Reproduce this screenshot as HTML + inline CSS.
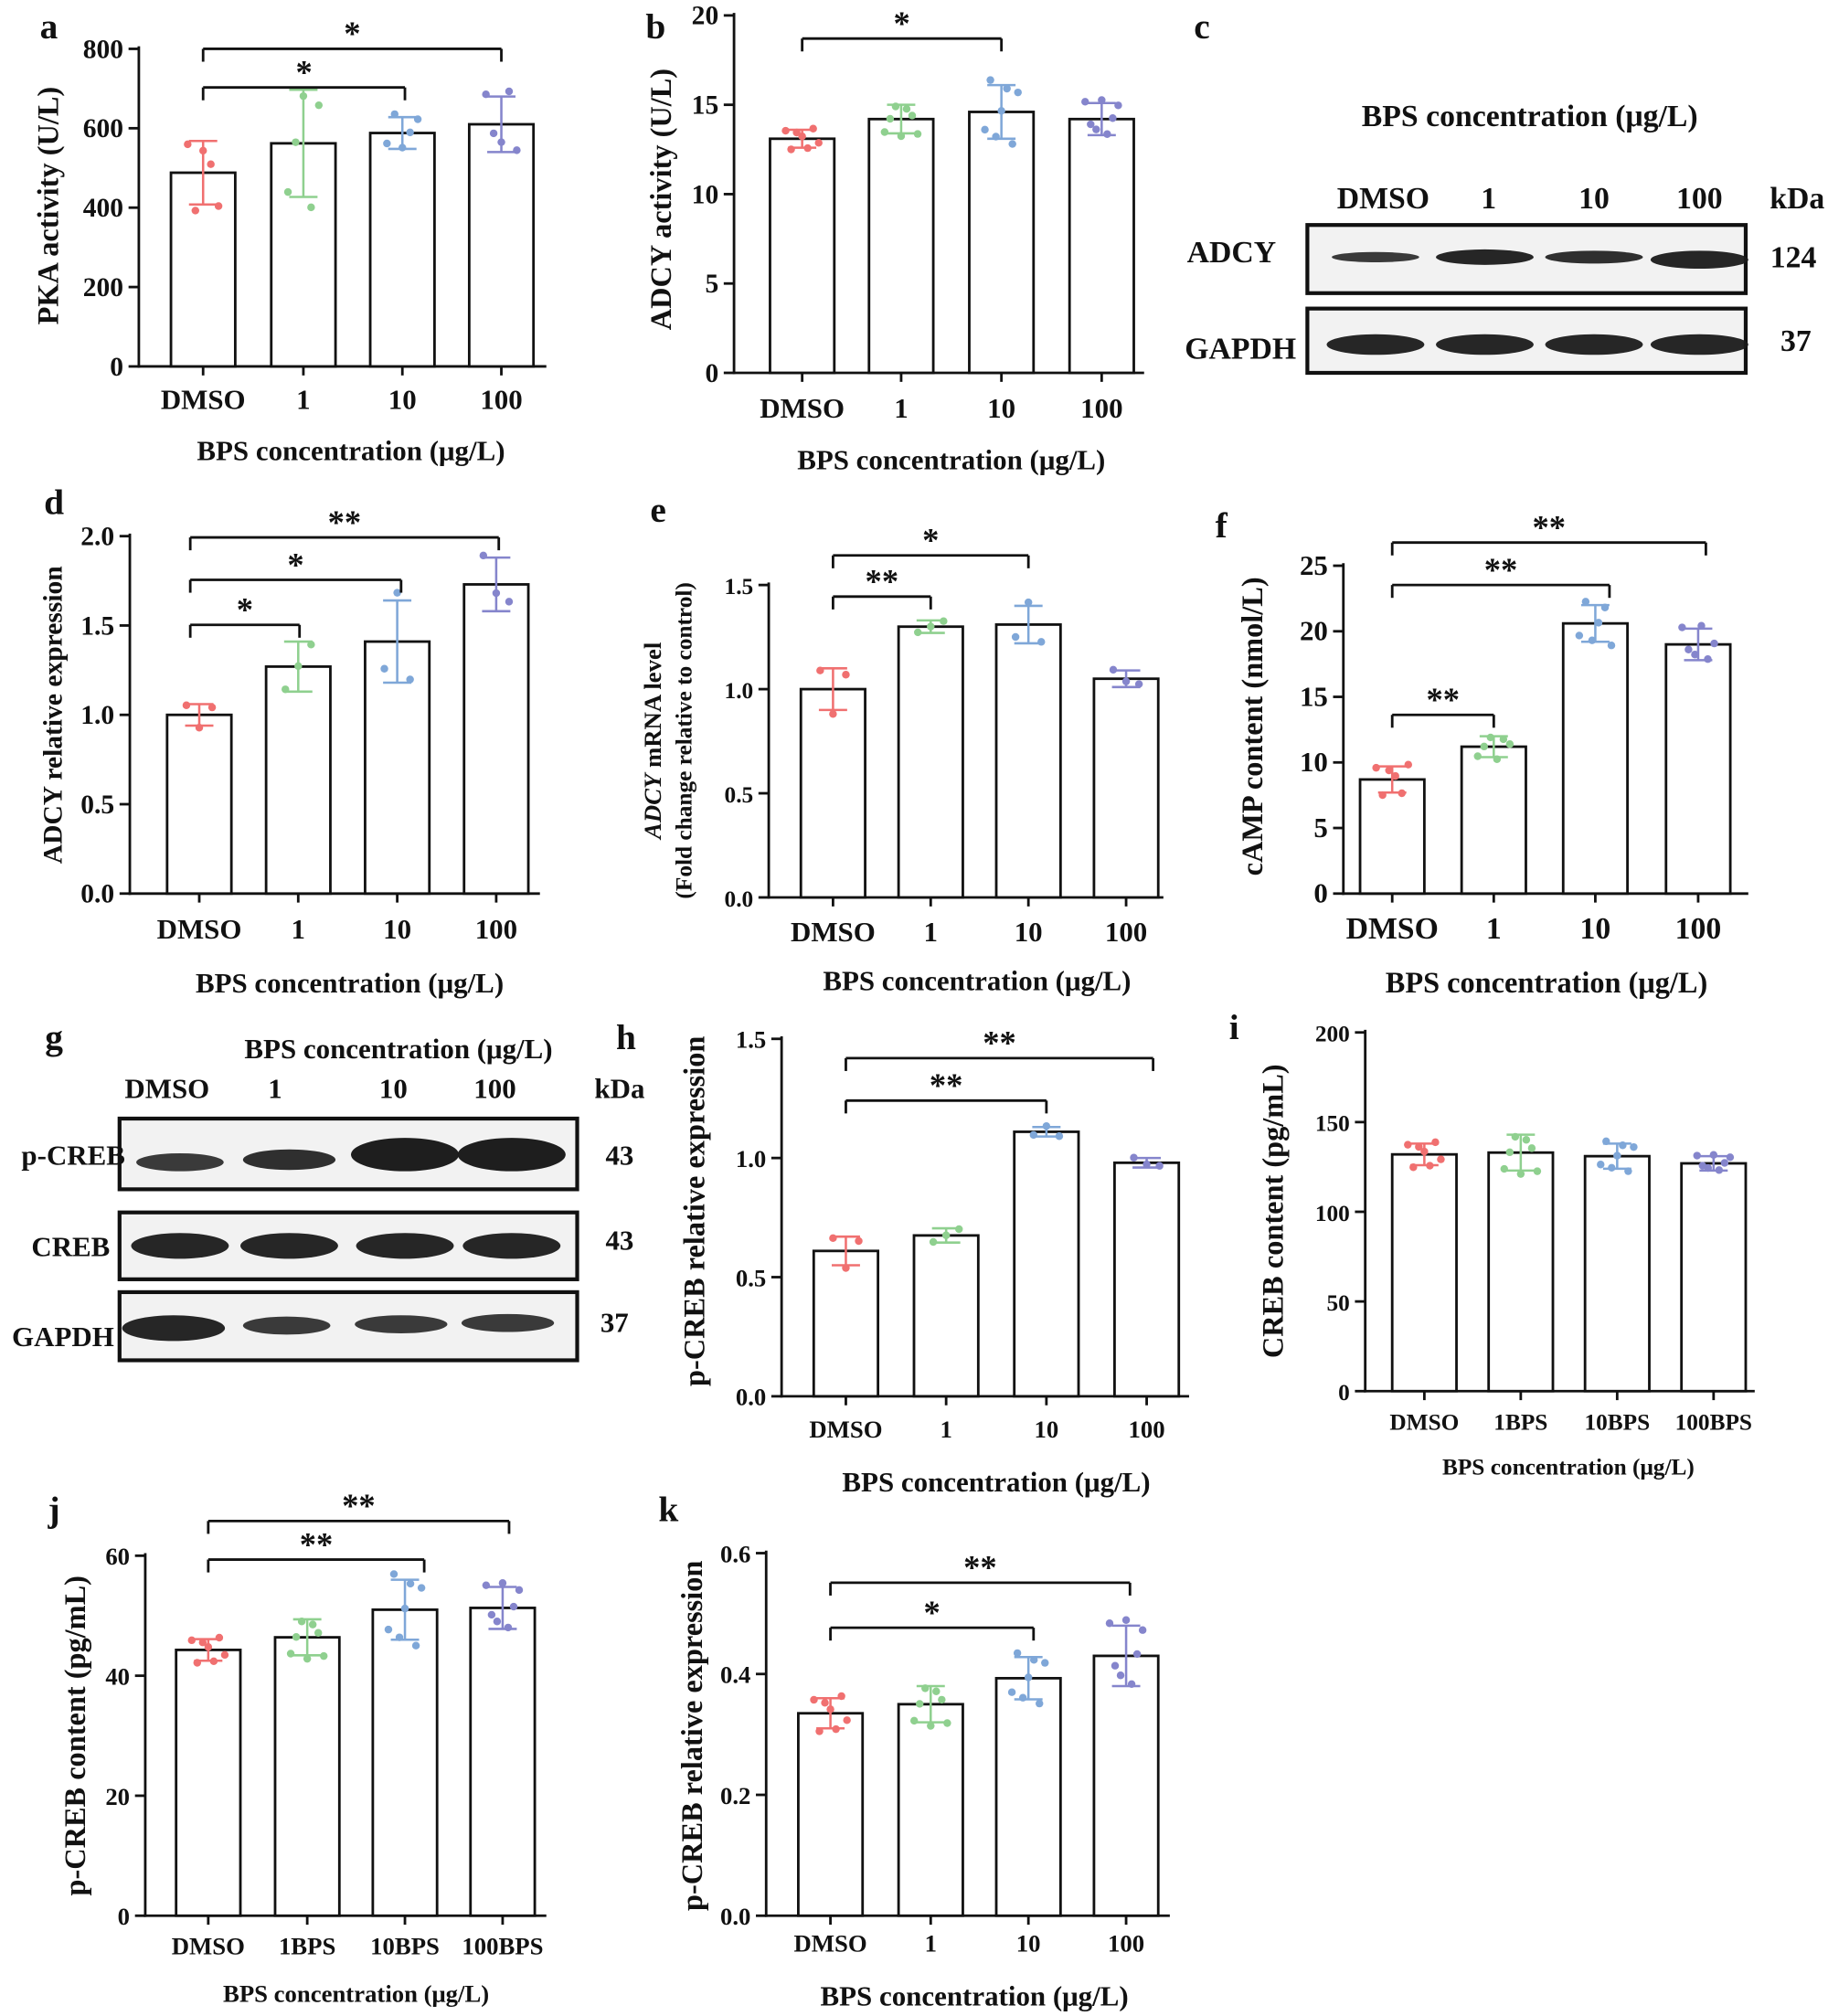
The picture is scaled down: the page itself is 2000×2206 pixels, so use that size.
<!DOCTYPE html>
<html><head><meta charset="utf-8"><style>html,body{margin:0;padding:0;background:#fff}svg{display:block}text{font-family:"Liberation Serif",serif;font-weight:bold;fill:#111}</style></head>
<body>
<svg id="s" width="2000" height="2206" viewBox="0 0 1422 1568" preserveAspectRatio="none" xmlns="http://www.w3.org/2000/svg"></svg>
<script>
var out=[];
var COL=['#f07070','#8fd08f','#7fa7d8','#8585cc'];
function T(x,y,t,fs,anchor,extra){out.push('<text x="'+x+'" y="'+y+'" font-size="'+fs+'" text-anchor="'+(anchor||'middle')+'" '+(extra||'')+'>'+t+'</text>');}
function L(x1,y1,x2,y2,w,c){out.push('<line x1="'+x1+'" y1="'+y1+'" x2="'+x2+'" y2="'+y2+'" stroke="'+(c||'#111')+'" stroke-width="'+(w||2)+'"/>');}
function panel(p){
 var sc=(p.yb-p.yt)/p.max;var Y=function(v){return p.yb-v*sc;};
 L(p.ax,p.yt-2,p.ax,p.yb+1,2);L(p.ax-1,p.yb,p.xe,p.yb,2);
 p.ticks.forEach(function(t,i){var y=Y(t);L(p.ax-8,y,p.ax,y,2);T(p.ax-12,y+7,p.tl?p.tl[i]:t,p.tfs||21,'end');});
 p.c.forEach(function(cx,i){var v=p.v[i],e=p.e[i],bw=50;
  out.push('<rect x="'+(cx-bw/2)+'" y="'+Y(v)+'" width="'+bw+'" height="'+(p.yb-Y(v))+'" fill="#fff" stroke="#111" stroke-width="2"/>');
  L(cx,Y(v+e),cx,Y(v-e),1.8,COL[i]);L(cx-11,Y(v+e),cx+11,Y(v+e),1.8,COL[i]);L(cx-11,Y(v-e),cx+11,Y(v-e),1.8,COL[i]);
  var n=p.n||6;for(var k=0;k<n;k++){var f=Math.sin((k+1)*2.3+i*1.7);var dv=v+f*e*1.2;var dx=(k-(n-1)/2)*(30/n);
   out.push('<circle cx="'+(cx+dx)+'" cy="'+Y(dv)+'" r="3" fill="'+COL[i]+'"/>');}
  L(cx,p.yb,cx,p.yb+7,2);
  T(cx,p.xly,p.xl[i],p.xfs||22);
 });
 (p.sig||[]).forEach(function(s){L(s[0],s[2],s[1],s[2],2);L(s[0],s[2],s[0],s[2]+10,2);L(s[1],s[2],s[1],s[2]+10,2);T((s[0]+s[1])/2,s[2]-3,s[3],26);});
 T(p.tx,p.ty,'BPS concentration (μg/L)',p.titfs||22);
 if(p.yl)T(0,0,p.yl,p.ylfs||23,'middle','transform="translate('+p.ylx+','+p.yly+') rotate(-90)"');
}
var X4=['DMSO','1','10','100'],XB=['DMSO','1BPS','10BPS','100BPS'];
panel({ax:108,yb:285,yt:38,max:800,ticks:[0,200,400,600,800],c:[158,236,313,390],v:[488,562,588,610],e:[80,135,40,70],n:5,xe:425,xl:X4,xly:318,tx:273,ty:358,sig:[[158,315,68,'*'],[158,390,38,'*']],yl:'PKA activity (U/L)',ylx:45,yly:160});
panel({ax:571,yb:290,yt:12,max:20,ticks:[0,5,10,15,20],c:[624,701,779,857],v:[13.1,14.2,14.6,14.2],e:[0.5,0.8,1.5,0.9],n:7,xe:890,xl:X4,xly:325,tx:740,ty:365,sig:[[624,779,30,'*']],yl:'ADCY activity (U/L)',ylx:522,yly:155});
panel({ax:101,yb:695,yt:417,max:2,ticks:[0,0.5,1,1.5,2],tl:['0.0','0.5','1.0','1.5','2.0'],c:[155,232,309,386],v:[1,1.27,1.41,1.73],e:[0.06,0.14,0.23,0.15],n:3,xe:420,xl:X4,xly:730,tx:272,ty:772,sig:[[148,233,486,'*'],[148,312,451,'*'],[148,388,418,'**']],yl:'ADCY relative expression',ylx:48,yly:556,ylfs:21});
panel({ax:598,yb:698,yt:455,max:1.5,ticks:[0,0.5,1,1.5],tl:['0.0','0.5','1.0','1.5'],tfs:18,c:[648,724,800,876],v:[1,1.3,1.31,1.05],e:[0.1,0.03,0.09,0.04],n:3,xe:905,xl:X4,xly:732,tx:760,ty:770,sig:[[648,724,464,'**'],[648,800,432,'*']]});
T(0,0,'<tspan font-style="italic">ADCY</tspan> mRNA level',19,'middle','transform="translate(514,576) rotate(-90)"');
T(0,0,'(Fold change relative to control)',18,'middle','transform="translate(538,576) rotate(-90)"');
panel({ax:1045,yb:695,yt:440,max:25,ticks:[0,5,10,15,20,25],tfs:22,c:[1083,1162,1241,1321],v:[8.7,11.2,20.6,19],e:[1,0.8,1.4,1.2],n:6,xe:1360,xl:X4,xly:730,xfs:24,tx:1203,ty:772,titfs:23,sig:[[1083,1162,556,'**'],[1083,1252,455,'**'],[1083,1327,422,'**']],yl:'cAMP content (nmol/L)',ylx:982,yly:565});
panel({ax:608,yb:1086,yt:808,max:1.5,ticks:[0,0.5,1,1.5],tl:['0.0','0.5','1.0','1.5'],tfs:19,c:[658,736,814,892],v:[0.61,0.675,1.11,0.98],e:[0.06,0.03,0.02,0.02],n:3,xe:925,xl:X4,xly:1118,xfs:19,tx:775,ty:1160,sig:[[658,814,856,'**'],[658,897,823,'**']],yl:'p-CREB relative expression',ylx:548,yly:942});
panel({ax:1062,yb:1082,yt:803,max:200,ticks:[0,50,100,150,200],tfs:18,c:[1108,1183,1258,1333],v:[132,133,131,127],e:[6,10,7,4],n:7,xe:1365,xl:XB,xly:1112,xfs:18,tx:1220,ty:1147,titfs:18,yl:'CREB content (pg/mL)',ylx:998,yly:942});
panel({ax:113,yb:1490,yt:1210,max:60,ticks:[0,20,40,60],tfs:19,c:[162,239,315,391],v:[44.3,46.4,51,51.3],e:[1.8,3,5,3.5],n:7,xe:425,xl:XB,xly:1520,xfs:19,tx:277,ty:1557,titfs:19,sig:[[162,330,1213,'**'],[162,396,1183,'**']],yl:'p-CREB content (pg/mL)',ylx:66,yly:1350});
panel({ax:596,yb:1490,yt:1208,max:0.6,ticks:[0,0.2,0.4,0.6],tl:['0.0','0.2','0.4','0.6'],tfs:19,c:[646,724,800,876],v:[0.335,0.35,0.393,0.43],e:[0.025,0.03,0.035,0.05],n:7,xe:910,xl:X4,xly:1518,xfs:19,tx:758,ty:1560,sig:[[646,804,1266,'*'],[646,879,1231,'**']],yl:'p-CREB relative expression',ylx:546,yly:1350});
function band(cx,cy,w,h,o){out.push('<ellipse cx="'+cx+'" cy="'+cy+'" rx="'+w+'" ry="'+h+'" fill="#1a1a1a" opacity="'+o+'"/>');}
function box(x1,y1,x2,y2){out.push('<rect x="'+x1+'" y="'+y1+'" width="'+(x2-x1)+'" height="'+(y2-y1)+'" fill="#f2f2f2" stroke="#111" stroke-width="3"/>');}
T(1190,98,'BPS concentration (μg/L)',24);
[['DMSO',1076],['1',1158],['10',1240],['100',1322]].forEach(function(a){T(a[1],162,a[0],24);});T(1398,162,'kDa',24);
box(1017,175,1358,228);box(1017,240,1358,290);
band(1070,200,34,4,0.85);band(1155,200,38,6,0.95);band(1240,200,38,5,0.9);band(1322,202,38,7,0.95);
[1070,1155,1240,1322].forEach(function(c){band(c,268,38,8,0.95);});
T(958,204,'ADCY',24);T(965,279,'GAPDH',24);T(1395,208,'124',24);T(1397,273,'37',24);
T(310,823,'BPS concentration (μg/L)',22);
[['DMSO',130],['1',214],['10',306],['100',385]].forEach(function(a){T(a[1],854,a[0],22);});T(482,854,'kDa',22);
box(93,870,449,925);box(93,943,449,995);box(93,1005,449,1058);
band(140,904,34,7,0.85);band(225,902,36,8,0.9);band(315,898,42,13,0.98);band(398,898,42,13,0.98);
[140,225,315,398].forEach(function(c){band(c,969,38,10,0.95);});
band(135,1033,40,10,0.95);band(223,1031,34,7,0.85);band(312,1030,36,7,0.85);band(395,1029,36,7,0.85);
T(57,906,'p-CREB',22);T(55,977,'CREB',22);T(49,1047,'GAPDH',22);T(482,906,'43',22);T(482,972,'43',22);T(478,1036,'37',22);
[['a',38,22],['b',510,22],['c',935,22],['d',42,392],['e',512,398],['f',950,410],['g',42,808],['h',487,808],['i',960,800],['j',42,1175],['k',520,1175]].forEach(function(a){T(a[1],a[2]+8,a[0],28);});
document.getElementById('s').innerHTML=out.join('');
</script>
</body></html>
